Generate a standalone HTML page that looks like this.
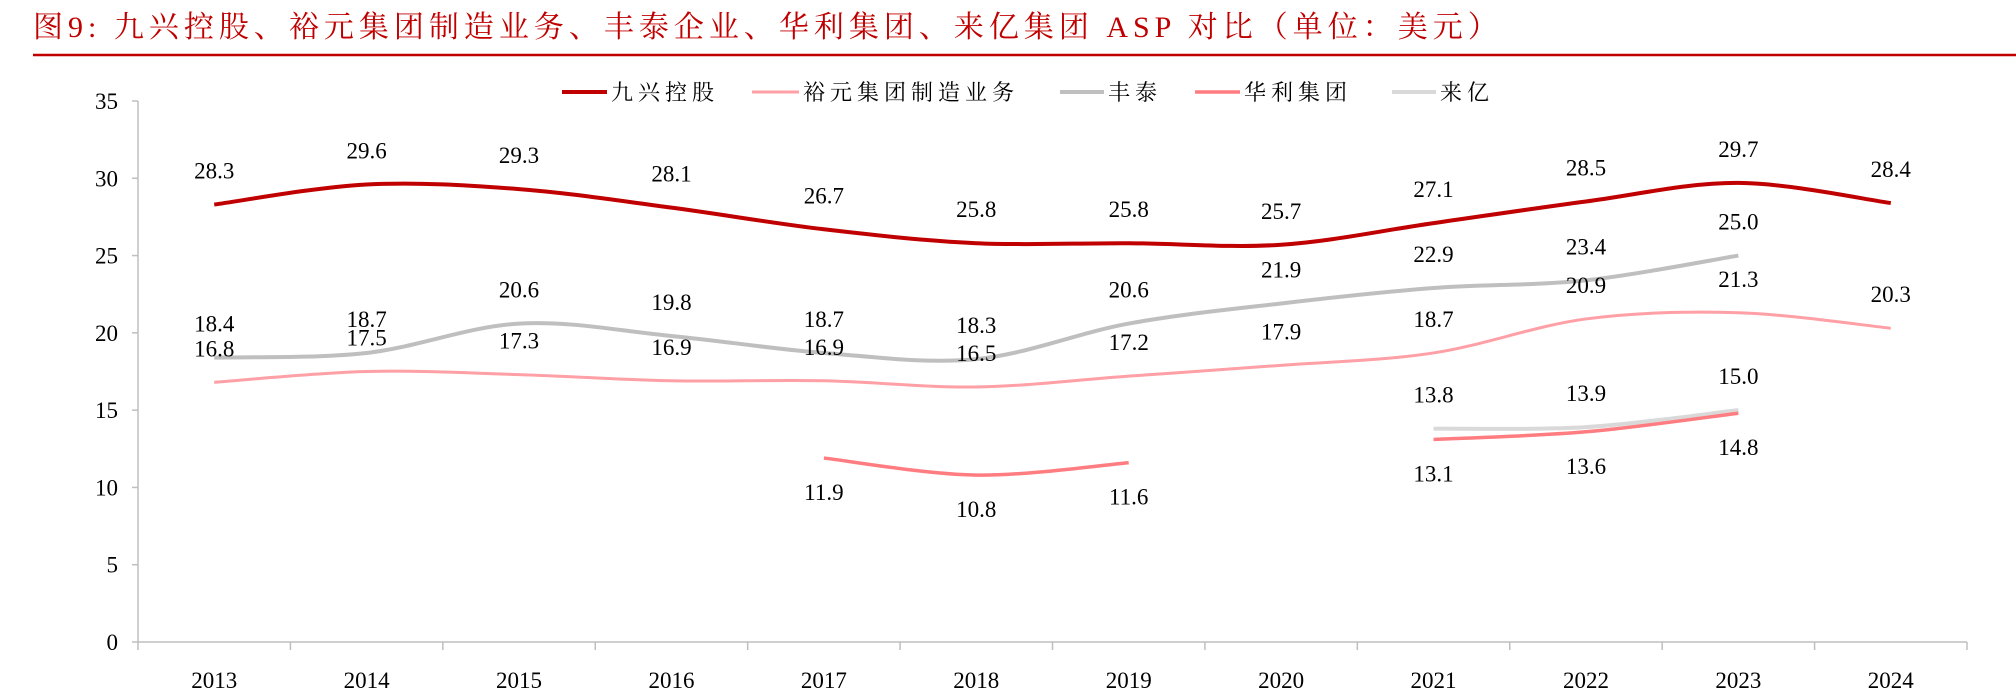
<!DOCTYPE html>
<html><head><meta charset="utf-8">
<style>
body{margin:0;background:#fff;}
svg{display:block;}
</style></head>
<body>
<svg id="chart" width="2016" height="693" xmlns="http://www.w3.org/2000/svg">
<text x="33" y="37" font-family="'Liberation Serif','Noto Serif CJK SC',serif" font-size="30" letter-spacing="5" fill="#c00000">图9:  九兴控股、裕元集团制造业务、丰泰企业、华利集团、来亿集团 ASP 对比（单位：美元）</text>
<line x1="33" y1="55" x2="2016" y2="55" stroke="#c00000" stroke-width="2.5"/>
<g id="axes"></g>
<g id="series"></g>
<g id="labels"></g>
<g id="legend"></g>
</svg>
<script>
const categories = ['2013','2014','2015','2016','2017','2018','2019','2020','2021','2022','2023','2024'];
const yTicks = [0,5,10,15,20,25,30,35];
const jiuxing = [28.3,29.6,29.3,28.1,26.7,25.8,25.8,25.7,27.1,28.5,29.7,28.4];
const yuyuan = [16.8,17.5,17.3,16.9,16.9,16.5,17.2,17.9,18.7,20.9,21.3,20.3];
const fengtai = [18.4,18.7,20.6,19.8,18.7,18.3,20.6,21.9,22.9,23.4,25.0,null];
const huali = [null,null,null,null,11.9,10.8,11.6,null,13.1,13.6,14.8,null];
const laiyi = [null,null,null,null,null,null,null,null,13.8,13.9,15.0,null];
const seriesNames = ['九兴控股','裕元集团制造业务','丰泰','华利集团','来亿'];

const NS='http://www.w3.org/2000/svg';
const X0=138, X1=1967, Y0=642, Y35=101;
const bw=(X1-X0)/categories.length;
function xs(i){return X0+bw*(i+0.5);}
function ys(v){return Y0-(v/35)*(Y0-Y35);}
function mk(tag,attrs,parent){const e=document.createElementNS(NS,tag);for(const k in attrs)e.setAttribute(k,attrs[k]);parent.appendChild(e);return e;}
const axes=document.getElementById('axes');
const font="'Liberation Serif','Noto Serif CJK SC',serif";

let ya=mk('line',{x1:X0,y1:Y35,x2:X0,y2:Y0,stroke:'#bfbfbf','stroke-width':1.5},axes);


yTicks.forEach(t=>{
  const y=ys(t);
  const tk=mk('line',{x1:X0-6,y1:y,x2:X0,y2:y,stroke:'#bfbfbf','stroke-width':1.5},axes);
  
  
  const tx=mk('text',{x:X0-20,y:y+8,'text-anchor':'end','font-family':font,'font-size':23,fill:'#000'},axes);
  tx.textContent=t;
  
  
});
let xa=mk('line',{x1:X0,y1:Y0,x2:X1,y2:Y0,stroke:'#bfbfbf','stroke-width':1.5},axes);


for(let i=0;i<=categories.length;i++){
  const x=X0+bw*i;
  const tk=mk('line',{x1:x,y1:Y0,x2:x,y2:Y0+8,stroke:'#bfbfbf','stroke-width':1.5},axes);
  
  
}
categories.forEach((c,i)=>{
  const tx=mk('text',{x:xs(i),y:Y0+46,'text-anchor':'middle','font-family':font,'font-size':23,fill:'#000'},axes);
  tx.textContent=c;
  
  
});

function smoothPath(vals){
  const segs=[];let cur=[];
  vals.forEach((v,i)=>{if(v==null){if(cur.length)segs.push(cur);cur=[];}else cur.push([xs(i),ys(v)]);});
  if(cur.length)segs.push(cur);
  let d='';
  segs.forEach(p=>{
    d+='M'+p[0][0]+','+p[0][1];
    for(let i=0;i<p.length-1;i++){
      const p0=p[i-1]||p[i],p1=p[i],p2=p[i+1],p3=p[i+2]||p2;
      const t=1/6;
      const c1=[p1[0]+(p2[0]-p0[0])*t,p1[1]+(p2[1]-p0[1])*t];
      const c2=[p2[0]-(p3[0]-p1[0])*t,p2[1]-(p3[1]-p1[1])*t];
      d+=' C'+c1[0]+','+c1[1]+' '+c2[0]+','+c2[1]+' '+p2[0]+','+p2[1];
    }
  });
  return d;
}
const sg=document.getElementById('series');
const lg=document.getElementById('labels');
const defs=[
 {vals:laiyi,color:'#d9d9d9',w:4,name:'series-laiyi',pos:-1},
 {vals:fengtai,color:'#bfbfbf',w:4,name:'series-fengtai',pos:-1},
 {vals:yuyuan,color:'#ff9fa6',w:3,name:'series-yuyuan',pos:-1},
 {vals:huali,color:'#ff7c80',w:3.5,name:'series-huali',pos:1},
 {vals:jiuxing,color:'#c00000',w:4,name:'series-jiuxing',pos:-1}
];
defs.forEach(s=>{
  const p=mk('path',{d:smoothPath(s.vals),fill:'none',stroke:s.color,'stroke-width':s.w,'stroke-linecap':'butt'},sg);
  
  
  s.vals.forEach((v,i)=>{
    if(v==null)return;
    const y=s.pos<0?ys(v)-26:ys(v)+42;
    const t=mk('text',{x:xs(i),y:y,'text-anchor':'middle','font-family':font,'font-size':23,fill:'#000'},lg);
    t.textContent=v.toFixed(1);
    
    
  });
});
const leg=document.getElementById('legend');
const legItems=[[562,611,'#c00000',4],[752,803,'#ff9fa6',3],[1060,1108,'#bfbfbf',4],[1195,1244,'#ff7c80',3.5],[1392,1440,'#d9d9d9',4]];
legItems.forEach((it,k)=>{
  const l=mk('line',{x1:it[0],y1:92,x2:it[1]-4,y2:92,stroke:it[2],'stroke-width':it[3]},leg);
  
  
  const t=mk('text',{x:it[1],y:100,'font-family':font,'font-size':22,'letter-spacing':5,fill:'#000'},leg);
  t.textContent=seriesNames[k];
  
  
});
</script>
</body></html>
